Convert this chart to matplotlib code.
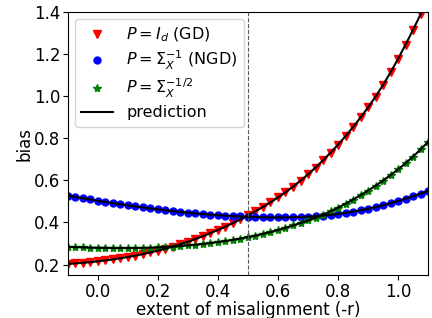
import matplotlib
matplotlib.use("Agg")
import matplotlib.pyplot as plt

# extent of misalignment, step 0.025 from -0.1 to 1.1
r = [-0.1, -0.075, -0.05, -0.025, 0.0, 0.025, 0.05, 0.075, 0.1, 0.125,
     0.15, 0.175, 0.2, 0.225, 0.25, 0.275, 0.3, 0.325, 0.35, 0.375,
     0.4, 0.425, 0.45, 0.475, 0.5, 0.525, 0.55, 0.575, 0.6, 0.625,
     0.65, 0.675, 0.7, 0.725, 0.75, 0.775, 0.8, 0.825, 0.85, 0.875,
     0.9, 0.925, 0.95, 0.975, 1.0, 1.025, 1.05, 1.075, 1.1]

bias_gd = [0.2030, 0.2055, 0.2084, 0.2117, 0.2155, 0.2198, 0.2246, 0.2300, 0.2360, 0.2426,
           0.2498, 0.2576, 0.2660, 0.2752, 0.2854, 0.2965, 0.3085, 0.3214, 0.3350, 0.3494,
           0.3645, 0.3804, 0.3972, 0.4149, 0.4335, 0.4531, 0.4739, 0.4958, 0.5190, 0.5437,
           0.5702, 0.5987, 0.6290, 0.6612, 0.6955, 0.7317, 0.7700, 0.8105, 0.8535, 0.8990,
           0.9470, 0.9984, 1.0540, 1.1139, 1.1780, 1.2457, 1.3161, 1.3894, 1.4655]

bias_ngd = [0.5280, 0.5216, 0.5153, 0.5092, 0.5033, 0.4975, 0.4919, 0.4865, 0.4813, 0.4763,
            0.4714, 0.4668, 0.4623, 0.4580, 0.4540, 0.4502, 0.4466, 0.4432, 0.4401, 0.4372,
            0.4346, 0.4322, 0.4302, 0.4284, 0.4268, 0.4256, 0.4248, 0.4242, 0.4241, 0.4243,
            0.4250, 0.4261, 0.4276, 0.4297, 0.4326, 0.4362, 0.4406, 0.4457, 0.4515, 0.4580,
            0.4651, 0.4731, 0.4819, 0.4916, 0.5021, 0.5134, 0.5251, 0.5374, 0.5501]

bias_half = [0.2840, 0.2828, 0.2818, 0.2808, 0.2800, 0.2793, 0.2789, 0.2786, 0.2785, 0.2787,
             0.2792, 0.2802, 0.2815, 0.2832, 0.2854, 0.2880, 0.2910, 0.2944, 0.2983, 0.3024,
             0.3070, 0.3120, 0.3176, 0.3238, 0.3305, 0.3379, 0.3460, 0.3549, 0.3645, 0.3748,
             0.3858, 0.3973, 0.4095, 0.4227, 0.4373, 0.4532, 0.4705, 0.4891, 0.5087, 0.5296,
             0.5515, 0.5747, 0.5992, 0.6252, 0.6525, 0.6817, 0.7132, 0.7472, 0.7835]

fig = plt.figure(figsize=(4.32, 3.18), dpi=100)
ax = fig.add_subplot(111)
fig.subplots_adjust(left=0.157, right=0.991, top=0.962, bottom=0.135)

ax.plot(r, bias_gd, "v", color="red", ms=6, label=r"$P=I_d$ (GD)")
ax.plot(r, bias_ngd, "o", color="blue", ms=5, label=r"$P=\Sigma_X^{-1}$ (NGD)")
ax.plot(r, bias_half, "*", color="green", ms=6, label=r"$P=\Sigma_X^{-1/2}$")
ax.plot(r, bias_gd, "k-", lw=1.5, label="prediction")
ax.plot(r, bias_ngd, "k-", lw=1.5)
ax.plot(r, bias_half, "k-", lw=1.5)
ax.axvline(0.5, color="0.35", ls="--", lw=0.8)

ax.set_xlim(-0.1, 1.1)
ax.set_ylim(0.15, 1.4)
ax.set_xticks([0.0, 0.2, 0.4, 0.6, 0.8, 1.0])
ax.set_yticks([0.2, 0.4, 0.6, 0.8, 1.0, 1.2, 1.4])
ax.tick_params(labelsize=12, pad=2)
ax.set_xlabel("extent of misalignment (-r)", fontsize=12, labelpad=0)
ax.set_ylabel("bias", fontsize=12, labelpad=0)
ax.legend(loc="upper left", fontsize=11.5, numpoints=1, handlelength=2.0,
          labelspacing=0.3, borderaxespad=0.45)

fig.savefig("out.png", dpi=100)
